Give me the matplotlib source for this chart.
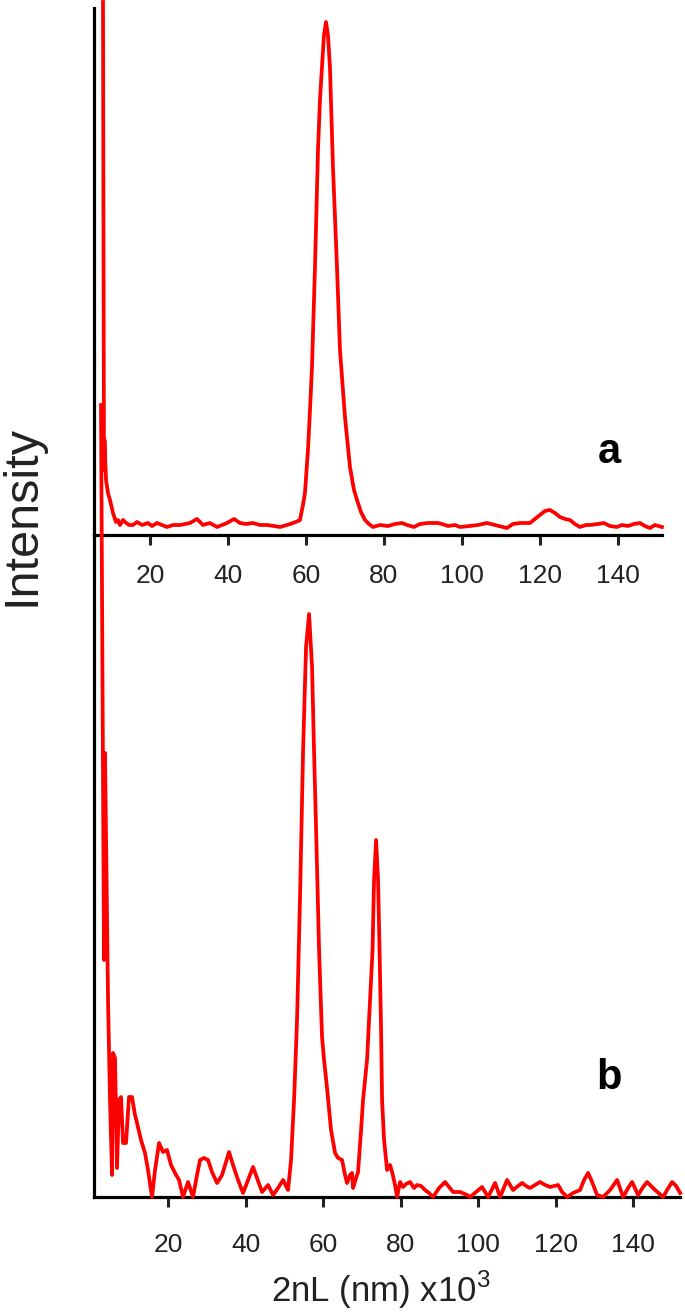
import matplotlib
matplotlib.use("Agg")
import matplotlib.pyplot as plt

plt.rcParams['font.family'] = ['Liberation Sans', 'DejaVu Sans']
plt.rcParams['mathtext.fontset'] = 'custom'
plt.rcParams['mathtext.rm'] = 'Liberation Sans'

# ---- data (2nL in nm x10^3, intensity in arbitrary units) ----
xa = [7.95, 8.2, 8.33, 8.72, 9.23, 9.74, 10.51, 11.28, 11.79, 12.31, 13.08, 13.59, 14.62, 15.64, 16.67,
      17.95, 19.49, 20.51, 21.79, 23.08, 24.36, 25.9, 27.69, 28.97, 30.26, 32.05, 33.59, 35.38, 37.18,
      38.46, 39.74, 41.54, 43.08, 44.62, 46.41, 48.21, 50.0, 51.79, 53.33, 55.13, 56.67, 57.95, 58.46,
      59.23, 59.74, 60.51, 61.03, 61.54, 62.31, 63.08, 63.59, 64.10, 64.62, 65.13, 65.64, 66.15, 66.92,
      67.95, 68.72, 70.0, 71.28, 72.31, 73.08, 74.10, 75.13, 76.15, 77.18, 78.97, 81.03, 82.82, 84.62,
      85.9, 87.69, 89.23, 91.28, 93.85, 94.87, 96.41, 98.21, 99.49, 102.05, 104.1, 106.41, 108.46,
      111.54, 113.08, 114.87, 117.44, 118.72, 120.0, 121.28, 122.56, 123.85, 125.13, 126.41, 127.69,
      128.97, 130.26, 131.79, 132.82, 134.87, 136.41, 137.95, 139.74, 141.03, 142.56, 144.1, 145.64,
      146.92, 148.21, 149.49, 151.28]
ya = [533, 65, 95, 55, 42, 35, 22, 13, 15, 10, 15, 13, 10, 10, 13,
      10, 12, 9, 12, 10, 8, 10, 10, 11, 12, 16, 10, 12, 8,
      10, 12, 16, 12, 11, 12, 10, 10, 9, 8, 10, 12, 14, 15,
      30, 42, 85, 125, 168, 268, 385, 435, 468, 500, 513, 500, 468, 368,
      268, 185, 118, 68, 45, 35, 23, 15, 11, 8, 10, 9, 11, 12,
      10, 8, 11, 12, 12, 11, 9, 10, 8, 9, 10, 12, 10,
      7, 11, 12, 12, 16, 20, 24, 25, 22, 18, 16, 15,
      11, 8, 10, 10, 11, 12, 9, 8, 10, 9, 11, 12,
      9, 7, 10, 8]

xb = [2.71, 3.48, 3.74, 4.52, 5.03, 5.55, 5.81, 6.32, 6.84, 7.35, 7.87, 8.39, 9.16, 9.94, 10.71,
      11.48, 12.0, 13.03, 14.06, 14.84, 15.87, 16.65, 17.68, 18.71, 19.74, 20.77, 21.81, 22.84, 23.87,
      25.16, 26.45, 27.48, 28.26, 29.29, 30.32, 31.35, 32.65, 33.94, 35.74, 36.77, 38.06, 39.35, 40.65,
      41.94, 42.97, 44.26, 45.81, 47.1, 48.39, 49.68, 50.45, 50.97, 51.74, 52.52, 53.29, 54.06, 54.84,
      55.61, 56.39, 57.16, 57.68, 58.19, 58.97, 59.74, 60.26, 61.03, 62.06, 63.10, 63.87, 64.9, 65.68,
      66.19, 66.97, 67.48, 67.74, 68.52, 69.03, 69.81, 70.32, 71.35, 72.13, 72.77, 73.16, 73.68, 74.19,
      74.58, 74.97, 75.23, 75.74, 76.52, 77.29, 77.81, 78.58, 79.1, 79.87, 80.65, 81.42, 82.45, 83.48,
      84.26, 85.29, 86.32, 87.35, 88.39, 89.94, 91.48, 92.52, 93.55, 95.35, 97.16, 97.94, 99.48, 101.03,
      102.58, 104.39, 105.68, 107.48, 109.03, 110.32, 111.35, 112.39, 113.42, 114.71, 116.0, 117.29,
      118.58, 119.61, 120.65, 121.68, 122.97, 124.52, 126.32, 127.35, 128.39, 129.42, 130.71, 132.26,
      134.06, 135.87, 137.42, 138.71, 139.74, 141.29, 142.58, 143.61, 144.65, 145.68, 147.74, 148.77,
      150.06, 151.1, 152.13]
yb = [792, 237, 444, 197, 97, 22, 144, 139, 29, 97, 100, 54, 54, 100, 100,
      82, 74, 57, 44, 27, 0, 27, 54, 45, 47, 32, 24, 17, 0,
      15, 0, 22, 37, 39, 37, 25, 14, 22, 45, 32, 17, 4, 17,
      30, 19, 5, 12, 2, 9, 17, 11, 7, 37, 97, 177, 300, 445,
      550, 583, 530, 445, 370, 247, 160, 137, 109, 67, 44, 39, 37, 22,
      14, 22, 24, 9, 19, 25, 67, 97, 137, 197, 247, 317, 357, 317,
      247, 167, 97, 57, 27, 32, 25, 12, 0, 15, 10, 13, 15, 9,
      12, 11, 7, 4, 0, 9, 15, 10, 5, 5, 2, 0, 5, 10,
      0, 14, 0, 17, 7, 11, 14, 11, 9, 12, 15, 12,
      10, 11, 12, 5, 0, 4, 7, 17, 24, 15, 2, 0,
      7, 17, 0, 9, 15, 2, 10, 15, 11, 7, 0, 7,
      15, 11, 4]

xticks = [20, 40, 60, 80, 100, 120, 140]
xlabel = "2nL (nm) x10$^{3}$"
labels = ["a", "b"]

W, H = 685, 1314
fig = plt.figure(figsize=(W / 100, H / 100), dpi=100)

def box(l, r, t, b):
    return [l / W, 1 - b / H, (r - l) / W, (b - t) / H]

ax_a = fig.add_axes(box(94, 662, 8, 535))
ax_b = fig.add_axes(box(94, 680, 535, 1197))

red = '#ff0000'
ax_a.plot(xa, ya, color=red, lw=2.7, clip_on=False, solid_joinstyle='round', zorder=3)
ax_b.plot(xb, yb, color=red, lw=2.7, clip_on=False, solid_joinstyle='round', zorder=3)

ax_a.set_xlim(5.64, 151.3)
ax_a.set_ylim(0, 527)
ax_b.set_xlim(0.9, 152.1)
ax_b.set_ylim(0, 662)

for ax, pad in ((ax_a, 14), (ax_b, 19)):
    ax.patch.set_alpha(0)
    for s in ('top', 'right'):
        ax.spines[s].set_visible(False)
    for s in ('left', 'bottom'):
        ax.spines[s].set_linewidth(2.3)
        ax.spines[s].set_color('black')
        ax.spines[s].set_zorder(2)
    ax.set_yticks([])
    ax.set_xticks(xticks)
    ax.set_xticklabels([str(t) for t in xticks])
    ax.tick_params(axis='x', direction='out', length=7, width=2.2, pad=pad,
                   labelsize=19, colors='#222222')

fig.text(381 / W, 1 - 1290 / H, xlabel, ha='center', va='center', fontsize=25, color='#222222')
fig.text(22 / W, 1 - 515 / H, "Intensity", rotation=90, ha='center', va='center', fontsize=35,
         color='#222222')
fig.text(609 / W, 1 - 452 / H, labels[0], ha='center', va='center', fontsize=30, fontweight='bold')
fig.text(609 / W, 1 - 1078 / H, labels[1], ha='center', va='center', fontsize=30, fontweight='bold')

fig.savefig("out.png", dpi=100, facecolor='white')
